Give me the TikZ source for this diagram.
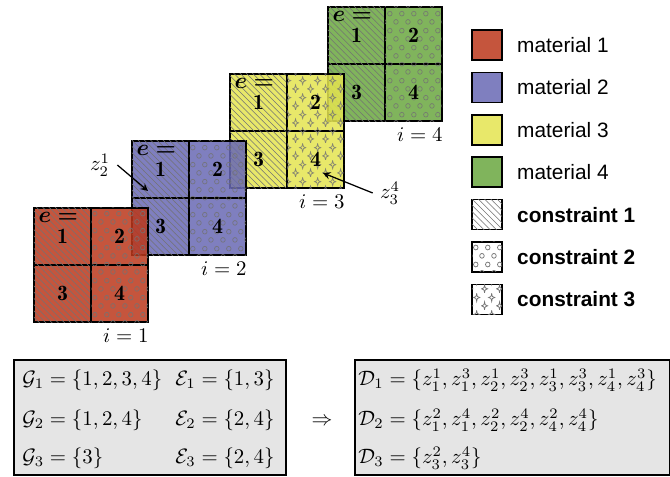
\documentclass[tikz,border=0pt]{standalone}
\usepackage{fontspec}
\setsansfont{Liberation Sans}
\usepackage{amsmath,bm}
\usetikzlibrary{patterns,positioning}

\definecolor{matA}{RGB}{197,85,61}
\definecolor{matB}{RGB}{127,127,191}
\definecolor{matC}{RGB}{232,232,106}
\definecolor{matD}{RGB}{128,180,92}
% darker fills, shown at 85% opacity
\definecolor{matAf}{RGB}{187,55,27}
\definecolor{matBf}{RGB}{104,104,180}
\definecolor{matCf}{RGB}{228,228,80}
\definecolor{matDf}{RGB}{106,167,63}

\newcommand{\drawsparkle}[2]{%
  \pgfpathmoveto{\pgfpoint{#1}{#2+1.9pt}}
  \pgfpathcurveto{\pgfpoint{#1+0.3pt}{#2+0.3pt}}{\pgfpoint{#1+0.3pt}{#2+0.3pt}}{\pgfpoint{#1+1.5pt}{#2}}
  \pgfpathcurveto{\pgfpoint{#1+0.3pt}{#2-0.3pt}}{\pgfpoint{#1+0.3pt}{#2-0.3pt}}{\pgfpoint{#1}{#2-1.9pt}}
  \pgfpathcurveto{\pgfpoint{#1-0.3pt}{#2-0.3pt}}{\pgfpoint{#1-0.3pt}{#2-0.3pt}}{\pgfpoint{#1-1.5pt}{#2}}
  \pgfpathcurveto{\pgfpoint{#1-0.3pt}{#2+0.3pt}}{\pgfpoint{#1-0.3pt}{#2+0.3pt}}{\pgfpoint{#1}{#2+1.9pt}}
  \pgfpathclose}

\pgfdeclarepatternformonly{hatch}{\pgfpoint{-1pt}{-1pt}}{\pgfpoint{4pt}{4pt}}{\pgfpoint{3pt}{3pt}}{%
  \pgfsetlinewidth{0.3pt}
  \pgfpathmoveto{\pgfpoint{0pt}{3pt}}
  \pgfpathlineto{\pgfpoint{3.1pt}{-0.1pt}}
  \pgfusepath{stroke}}

\pgfdeclarepatternformonly{rings}{\pgfpointorigin}{\pgfpoint{5.9pt}{8pt}}{\pgfpoint{5.9pt}{8pt}}{%
  \pgfsetlinewidth{0.35pt}
  \pgfpathcircle{\pgfpoint{1.5pt}{2pt}}{1.15pt}
  \pgfpathcircle{\pgfpoint{4.45pt}{6pt}}{1.15pt}
  \pgfusepath{stroke}}

\pgfdeclarepatternformonly{sparkles}{\pgfpointorigin}{\pgfpoint{7pt}{8pt}}{\pgfpoint{7pt}{8pt}}{%
  \pgfsetlinewidth{0.35pt}
  \drawsparkle{1.75pt}{2pt}
  \drawsparkle{5.25pt}{6pt}
  \pgfusepath{stroke}}

\tikzset{
  patfill/.style={postaction={pattern=#1,pattern color=black!55}},
  cellbox/.style={draw,line width=0.9pt,minimum size=27.4pt,inner sep=0pt,
    fill opacity=0.85,text opacity=1,font=\fontsize{10.5}{12}\selectfont},
  ilabel/.style={anchor=north east,inner xsep=0pt,inner ysep=2.5pt},
  legbox/.style={draw,line width=0.8pt,minimum size=14.4pt,inner sep=0pt},
  legtext/.style={inner sep=0pt,font=\sffamily},
  infobox/.style={draw,line width=1pt,fill=black!10,inner sep=0pt,anchor=south west},
  settext/.style={anchor=west,inner sep=0pt,font=\fontsize{10.4}{12}\selectfont}
}

\begin{document}
\begin{tikzpicture}[x=0.48pt,y=0.48pt,>=stealth]
  \useasboundingbox (0,0) rectangle (670,477);

  % the four domains, i = 4 first so that i = 1 lies on top
  \foreach \i/\col/\pat in {4/matDf/rings,3/matCf/sparkles,2/matBf/rings,1/matAf/rings}{
    \begin{scope}[shift={({34+98*(\i-1)},{155+67*(\i-1)})}]
      \node[cellbox,fill=\col,patfill=hatch] (b\i-1) at (28.5,85.5) {$\mathbf{1}$};
      \node[cellbox,fill=\col,patfill=\pat] (b\i-2) at (85.5,85.5) {$\mathbf{2}$};
      \node[cellbox,fill=\col,patfill=hatch] (b\i-3) at (28.5,28.5) {$\mathbf{3}$};
      \node[cellbox,fill=\col,patfill=\pat] (b\i-4) at (85.5,28.5) {$\mathbf{4}$};
    \end{scope}
    \node[anchor=north west,inner sep=2.5pt,font=\fontsize{10.5}{12}\selectfont] (e\i) at (b\i-1.north west) {$\bm{e=}$};
    \node[ilabel] (i\i) at (b\i-4.south east) {$i=\i$};
  }

  \node (z21) at (100,312) {$z_2^1$};
  \coordinate (t21) at (148,286);
  \draw[->,semithick] (z21.east) -- (t21);
  \node (z34) at (390,284) {$z_3^4$};
  \coordinate (t34) at (323,304);
  \draw[->,semithick] (z34.west) -- (t34);

  % legend
  \node[legbox,fill=matA] (leg1) at (487,432) {};
  \node[legbox,fill=matB,below=5.15pt of leg1] (leg2) {};
  \node[legbox,fill=matC,below=5.15pt of leg2] (leg3) {};
  \node[legbox,fill=matD,below=5.15pt of leg3] (leg4) {};
  \node[legbox,fill=white,patfill=hatch,below=5.15pt of leg4] (leg5) {};
  \node[legbox,fill=white,patfill=rings,below=5.15pt of leg5] (leg6) {};
  \node[legbox,fill=white,patfill=sparkles,below=5.15pt of leg6] (leg7) {};
  \node[legtext,right=6.7pt of leg1] (lt1) {material 1};
  \node[legtext,right=6.7pt of leg2] (lt2) {material 2};
  \node[legtext,right=6.7pt of leg3] (lt3) {material 3};
  \node[legtext,right=6.7pt of leg4] (lt4) {material 4};
  \node[legtext,right=6.7pt of leg5] (lt5) {\bfseries constraint 1};
  \node[legtext,right=6.7pt of leg6] (lt6) {\bfseries constraint 2};
  \node[legtext,right=6.7pt of leg7] (lt7) {\bfseries constraint 3};

  % sets
  \node[infobox,minimum width=130.6pt,minimum height=55.2pt] (gbox) at (13,1) {};
  \node[settext] (g1) at (22,97) {$\mathcal{G}_1=\{1,2,3,4\}$};
  \node[settext] (g2) at (22,57) {$\mathcal{G}_2=\{1,2,4\}$};
  \node[settext] (g3) at (22,19) {$\mathcal{G}_3=\{3\}$};
  \node[settext] (e1s) at (175,97) {$\mathcal{E}_1=\{1,3\}$};
  \node[settext] (e2s) at (175,57) {$\mathcal{E}_2=\{2,4\}$};
  \node[settext] (e3s) at (175,19) {$\mathcal{E}_3=\{2,4\}$};
  \node (imp) at (322,55) {$\Rightarrow$};
  \node[infobox,minimum width=151.2pt,minimum height=55.2pt] (dbox) at (354,1) {};
  \node[settext] (d1) at (358,97) {$\mathcal{D}_1=\{z_1^1,z_1^3,z_2^1,z_2^3,z_3^1,z_3^3,z_4^1,z_4^3\}$};
  \node[settext] (d2) at (358,57) {$\mathcal{D}_2=\{z_1^2,z_1^4,z_2^2,z_2^4,z_4^2,z_4^4\}$};
  \node[settext] (d3) at (358,19) {$\mathcal{D}_3=\{z_3^2,z_3^4\}$};
\end{tikzpicture}
\end{document}
